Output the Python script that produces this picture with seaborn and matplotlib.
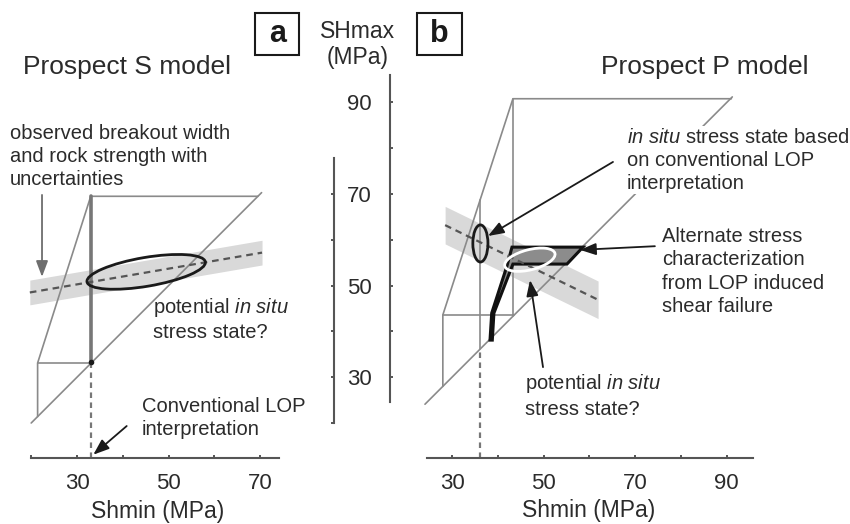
import numpy as np
import matplotlib
matplotlib.use('Agg')
import matplotlib.pyplot as plt
import seaborn as sns
from matplotlib.patches import Ellipse, Polygon, Rectangle

sns.set_theme(style='white')
plt.rcParams['font.family'] = ['Liberation Sans', 'DejaVu Sans']
plt.rcParams['mathtext.fontset'] = 'custom'
plt.rcParams['mathtext.rm'] = 'Liberation Sans'
plt.rcParams['mathtext.it'] = 'Liberation Sans:italic'

# ---------------- data (MPa) ----------------
# panel a : Prospect S model
a_diag = [20.0, 70.3]                       # SHmax = Shmin line
a_wall_x = [21.4, 21.4, 33.0, 69.5]         # stress polygon outline
a_wall_y = [21.4, 33.1, 69.5, 69.5]
a_sv_x = [21.4, 33.0]                       # Sv line
a_sv_y = [33.1, 33.1]
a_lop_x = [33.0, 33.0]                      # Shmin from LOP
a_lop_y = [33.1, 69.5]
a_band_x = [19.7, 70.4]                     # breakout constraint
a_band_mid = [48.5, 57.2]
a_band_half = 2.7
a_ell_xy = [45.1, 53.0]
a_ell_wh = [26.2, 6.3]
a_ell_ang = 9.6

# panel b : Prospect P model
b_diag = [24.1, 91.2]
b_wall_x = [28.0, 28.0, 43.3, 91.0]
b_wall_y = [28.0, 43.6, 90.8, 90.8]
b_sv_x = [28.0, 43.6]
b_sv_y = [43.6, 43.6]
b_side_x = [43.3, 43.3]
b_side_y = [43.3, 90.8]
b_lop_x = [36.1, 36.1]
b_lop_y = [36.1, 68.7]
b_band_x = [28.5, 61.9]
b_band_mid = [63.2, 46.9]
b_band_half = 4.1
b_ell_xy = [36.2, 59.2]
b_ell_wh = [3.3, 8.1]
b_alt_x = [38.3, 38.67, 42.0, 43.1, 58.6, 55.1, 43.3, 39.15, 38.8]
b_alt_y = [38.1, 44.0, 54.3, 58.4, 58.4, 54.7, 54.7, 44.0, 38.1]
b_pot_xy = [47.0, 55.65]
b_pot_wh = [11.3, 4.4]
b_pot_ang = 14.3

x_ticks_a = [20, 30, 40, 50, 60, 70]
x_labels_a = [30, 50, 70]
x_ticks_b = [30, 40, 50, 60, 70, 80, 90]
x_labels_b = [30, 50, 70, 90]
y_ticks_a = [20, 30, 40, 50, 60, 70]
y_ticks_b = [30, 40, 50, 60, 70, 80, 90]
y_labels_b = [30, 50, 70, 90]

# ---------------- layout ----------------
W, H = 850, 524
S = 4.58          # pixels per MPa
AX_Y = 12.36      # where the Shmin axes sit

GRAY = '#8a8a8a'
AXC = '#555555'
TXT = '#2b2b2b'

fig = plt.figure(figsize=(W / 100, H / 100), dpi=100)


def panel(px30, py20):
    ax = fig.add_axes([0, 0, 1, 1])
    ax.set_xlim(30 - px30 / S, 30 + (W - px30) / S)
    ax.set_ylim(20 - (H - py20) / S, 20 + py20 / S)
    ax.patch.set_alpha(0)
    for s in ax.spines.values():
        s.set_visible(False)
        s.set_color(AXC)
        s.set_linewidth(1.5)
    return ax


def seg(ax, x, y, **kw):
    sns.lineplot(x=x, y=y, ax=ax, sort=False, estimator=None, **kw)


def arrow(ax, start, tip, color='k'):
    ax.annotate('', xy=tip, xytext=start,
                arrowprops=dict(arrowstyle='-|>,head_length=0.8,head_width=0.3',
                                color=color, lw=1.3, shrinkA=0, shrinkB=0,
                                mutation_scale=12), zorder=6)


ax_a = panel(77, 423)
ax_b = panel(452, 423)

# ---- axes a ----
ax_a.spines['bottom'].set_visible(True)
ax_a.spines['bottom'].set_position(('data', AX_Y))
ax_a.spines['bottom'].set_bounds(20, 74.1)
ax_a.spines['right'].set_visible(True)
ax_a.spines['right'].set_position(('data', 86.1))
ax_a.spines['right'].set_bounds(20, 77.9)
ax_a.xaxis.set_ticks_position('bottom')
ax_a.yaxis.set_ticks_position('right')
ax_a.set_xticks(x_labels_a)
ax_a.set_xticks([t for t in x_ticks_a if t not in x_labels_a], minor=True)
ax_a.set_yticks(y_ticks_a)
ax_a.tick_params(which='both', direction='in', length=2.4, width=1.4, color=AXC)
ax_a.tick_params(axis='x', labelsize=16, pad=10.5, labelcolor=TXT)
ax_a.tick_params(axis='y', labelright=False, labelleft=False)

# ---- axes b ----
ax_b.spines['bottom'].set_visible(True)
ax_b.spines['bottom'].set_position(('data', AX_Y))
ax_b.spines['bottom'].set_bounds(24.5, 95.7)
ax_b.spines['left'].set_visible(True)
ax_b.spines['left'].set_position(('data', 16.46))
ax_b.spines['left'].set_bounds(24.5, 96)
ax_b.xaxis.set_ticks_position('bottom')
ax_b.yaxis.set_ticks_position('left')
ax_b.set_xticks(x_labels_b)
ax_b.set_xticks([t for t in x_ticks_b if t not in x_labels_b], minor=True)
ax_b.set_yticks(y_labels_b)
ax_b.set_yticks([t for t in y_ticks_b if t not in y_labels_b], minor=True)
ax_b.tick_params(which='both', direction='in', length=2.4, width=1.4, color=AXC)
ax_b.tick_params(axis='x', labelsize=16, pad=10.5, labelcolor=TXT)
ax_b.tick_params(axis='y', labelsize=16, pad=13, labelcolor=TXT)

# ---- panel a drawing ----
mid = np.array(a_band_mid)
ax_a.fill_between(a_band_x, mid - a_band_half, mid + a_band_half,
                  color='#d9d9d9', lw=0, zorder=1)
seg(ax_a, a_diag, a_diag, color=GRAY, lw=1.2, zorder=2)
seg(ax_a, a_wall_x, a_wall_y, color=GRAY, lw=1.2, zorder=2)
seg(ax_a, a_sv_x, a_sv_y, color=GRAY, lw=1.2, zorder=2)
seg(ax_a, a_lop_x, a_lop_y, color='#777777', lw=2.6, zorder=2)
seg(ax_a, a_lop_x, [AX_Y, a_lop_y[0]], color='#777777', lw=1.6,
    linestyle=(0, (2.5, 2)), zorder=2)
seg(ax_a, a_band_x, a_band_mid, color='#555555', lw=1.6,
    linestyle=(0, (3, 2.2)), zorder=4)
ax_a.plot(a_lop_x[0], a_lop_y[0] + 0.3, 'o', color='k', ms=3, zorder=5)
ax_a.add_patch(Ellipse(a_ell_xy, *a_ell_wh, angle=a_ell_ang, fill=False,
                       ec='k', lw=2, zorder=5))

# ---- panel b drawing ----
mid = np.array(b_band_mid)
ax_b.fill_between(b_band_x, mid - b_band_half, mid + b_band_half,
                  color='#d9d9d9', lw=0, zorder=1)
seg(ax_b, b_diag, b_diag, color=GRAY, lw=1.2, zorder=2)
seg(ax_b, b_wall_x, b_wall_y, color=GRAY, lw=1.2, zorder=2)
seg(ax_b, b_sv_x, b_sv_y, color=GRAY, lw=1.2, zorder=2)
seg(ax_b, b_side_x, b_side_y, color=GRAY, lw=1.2, zorder=2)
seg(ax_b, b_lop_x, b_lop_y, color=GRAY, lw=1.2, zorder=2)
seg(ax_b, b_lop_x, [AX_Y, b_lop_y[0]], color='#777777', lw=1.6,
    linestyle=(0, (2.5, 2)), zorder=2)
ax_b.add_patch(Polygon(list(zip(b_alt_x, b_alt_y)), closed=True, fc='#8c8c8c',
                       ec='#111111', lw=2.2, joinstyle='miter', zorder=3))
seg(ax_b, b_band_x, b_band_mid, color='#555555', lw=1.6,
    linestyle=(0, (3, 2.2)), zorder=4)
ax_b.add_patch(Ellipse(b_ell_xy, *b_ell_wh, fill=False, ec='k', lw=2, zorder=5))
ax_b.add_patch(Ellipse(b_pot_xy, *b_pot_wh, angle=b_pot_ang, fill=False,
                       ec='white', lw=2, zorder=5))

# ---- texts ----
tk = dict(color=TXT, fontsize=14.5, linespacing=1.27)
ax_a.text(40.9, 96.3, 'Prospect S model', fontsize=19, color=TXT,
          ha='center', va='baseline')
ax_b.text(85.2, 96.3, 'Prospect P model', fontsize=19, color=TXT,
          ha='center', va='baseline')
ax_a.text(15.37, 78.1, 'observed breakout width\nand rock strength with\nuncertainties',
          ha='left', va='center', **tk)
arrow(ax_a, (22.36, 69.8), (22.36, 51.9), color='#6e6e6e')
ax_a.text(46.6, 42.7, 'potential $\\mathit{in\\ situ}$\nstress state?',
          ha='left', va='center', **tk)
ax_a.text(44.1, 21.0, 'Conventional LOP\ninterpretation', ha='left', va='center', **tk)
arrow(ax_a, (40.85, 19.34), (33.56, 13.08))

ax_b.text(68.2, 77.4, '$\\mathit{in\\ situ}$ stress state based\non conventional LOP\ninterpretation',
          ha='left', va='center', zorder=7,
          bbox=dict(fc='white', ec='none', pad=1), **tk)
arrow(ax_b, (65.15, 77.0), (37.86, 60.83))
ax_b.text(75.85, 53.08, 'Alternate stress\ncharacterization\nfrom LOP induced\nshear failure',
          ha='left', va='center', **tk)
arrow(ax_b, (74.3, 58.6), (57.95, 57.8))
ax_b.text(45.9, 26.0, 'potential $\\mathit{in\\ situ}$\nstress state?',
          ha='left', va='center', **tk)
arrow(ax_b, (49.87, 32.2), (47.03, 51.2))

ax_a.text(47.5, 0.6, 'Shmin (MPa)', fontsize=16.5, color=TXT, ha='center', va='center')
ax_b.text(59.9, 1.0, 'Shmin (MPa)', fontsize=16.5, color=TXT, ha='center', va='center')
ax_a.text(91.35, 102.65, 'SHmax\n(MPa)', fontsize=16.5, color=TXT, ha='center',
          va='center', linespacing=1.2)

# panel tags
ax_a.add_patch(Rectangle((68.9, 100.35), 9.6, 9.15, fill=False, ec='k', lw=1.5,
                         clip_on=False))
ax_a.text(73.7, 104.9, 'a', fontsize=22, fontweight='bold', color='k',
          ha='center', va='center')
ax_b.add_patch(Rectangle((22.36, 100.35), 9.8, 9.15, fill=False, ec='k', lw=1.5,
                         clip_on=False))
ax_b.text(27.3, 104.9, 'b', fontsize=22, fontweight='bold', color='k',
          ha='center', va='center')

for ax, px30 in ((ax_a, 77), (ax_b, 452)):
    ax.set_xlim(30 - px30 / S, 30 + (W - px30) / S)
    ax.set_ylim(20 - (H - 423) / S, 20 + 423 / S)
    ax.set_xlabel('')
    ax.set_ylabel('')

fig.savefig('out.png', dpi=100, facecolor='white')
